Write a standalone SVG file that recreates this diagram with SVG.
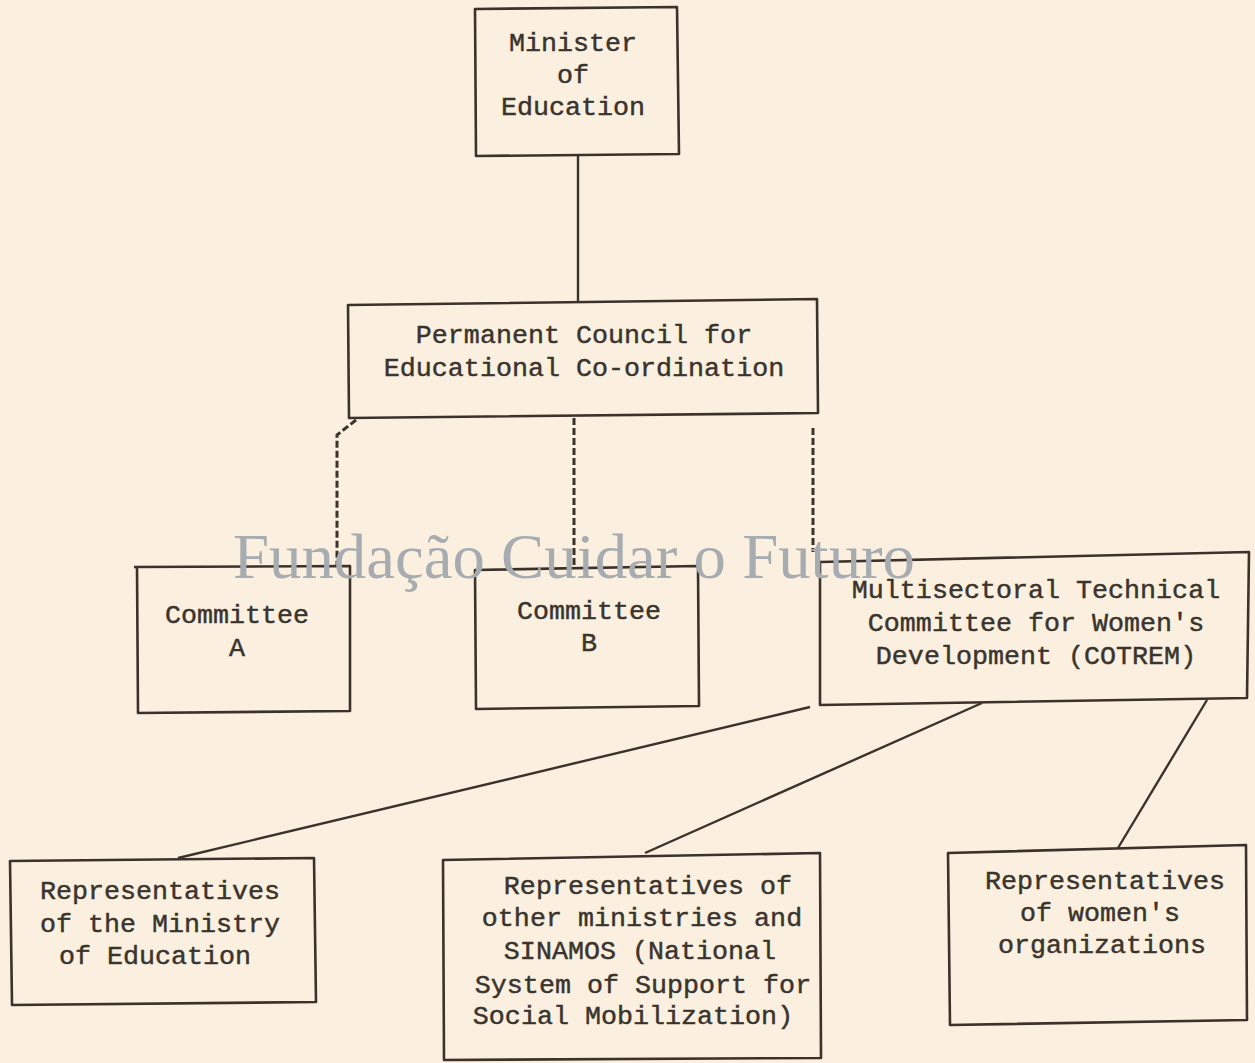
<svg xmlns="http://www.w3.org/2000/svg" width="1255" height="1063" viewBox="0 0 1255 1063">
<style>
.box{fill:none;stroke:#3a322b;stroke-width:2.6;stroke-linejoin:round}
.t{font-family:"Liberation Mono","Courier New",monospace;font-size:26.7px;fill:#3a342e;stroke:#3a342e;stroke-width:0.45;text-anchor:middle}
.ln{fill:none;stroke:#3a322b;stroke-width:2.4}
.dash{fill:none;stroke:#3a322b;stroke-width:3;stroke-dasharray:7 3}
.wm{font-family:"Liberation Serif","Times New Roman",serif;font-size:63px;fill:#a7acb1}
</style>
<rect x="0" y="0" width="1255" height="1063" fill="#fbf0df"/>
<g id="connectors">
<path class="ln" d="M578,156 L578,302"/>
<path class="dash" d="M356,420 L337,435 L337,566"/>
<path class="dash" d="M574,418 L574,568"/>
<path class="dash" d="M813,428 L813,552"/>
<path class="ln" d="M810,707 L178,858"/>
<path class="ln" d="M982,703 L645,853"/>
<path class="ln" d="M1207,700 L1118,848"/>
</g>
<g id="minister">
<path class="box" d="M475,9 L677,7 L679,154 L476,156 Z"/>
<text class="t" x="573" y="51">Minister</text>
<text class="t" x="573" y="83">of</text>
<text class="t" x="573" y="115">Education</text>
</g>
<g id="council">
<path class="box" d="M348,305 L817,299 L818,413 L349,418 Z"/>
<text class="t" x="584" y="343">Permanent Council for</text>
<text class="t" x="584" y="376">Educational Co-ordination</text>
</g>
<g id="committee-a">
<path class="box" d="M134,567 L350,566 L350,711 L138,713 L137,567"/>
<text class="t" x="237" y="623">Committee</text>
<text class="t" x="237" y="656">A</text>
</g>
<g id="committee-b">
<path class="box" d="M475,570 L698,566 L699,706 L476,709 Z"/>
<text class="t" x="589" y="619">Committee</text>
<text class="t" x="589" y="651">B</text>
</g>
<g id="cotrem">
<path class="box" d="M820,562 L1249,552 L1247,698 L820,705 Z"/>
<text class="t" x="1036" y="598">Multisectoral Technical</text>
<text class="t" x="1036" y="631">Committee for Women's</text>
<text class="t" x="1036" y="664">Development (COTREM)</text>
</g>
<g id="reps-ministry">
<path class="box" d="M10,861 L314,858 L316,1002 L12,1005 Z"/>
<text class="t" x="160" y="899">Representatives</text>
<text class="t" x="160" y="932">of the Ministry</text>
<text class="t" x="155" y="964">of Education</text>
</g>
<g id="reps-other">
<path class="box" d="M443,860 L820,853 L821,1058 L444,1060 Z"/>
<text class="t" x="648" y="894">Representatives of</text>
<text class="t" x="642" y="926">other ministries and</text>
<text class="t" x="640" y="959">SINAMOS (National</text>
<text class="t" x="643" y="993">System of Support for</text>
<text class="t" x="633" y="1024">Social Mobilization)</text>
</g>
<g id="reps-women">
<path class="box" d="M948,853 L1246,845 L1247,1020 L950,1025 Z"/>
<text class="t" x="1105" y="889">Representatives</text>
<text class="t" x="1100" y="921">of women's</text>
<text class="t" x="1102" y="953">organizations</text>
</g>
<text class="wm" x="233" y="578" textLength="682" lengthAdjust="spacingAndGlyphs">Fundação Cuidar o Futuro</text>
</svg>
